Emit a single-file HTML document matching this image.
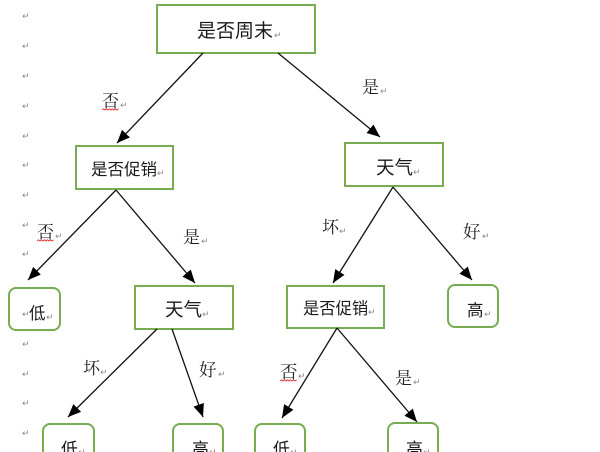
<!DOCTYPE html>
<html><head><meta charset="utf-8"><style>
html,body{margin:0;padding:0;background:#fff;}
svg{display:block;}
.t{font-family:"Liberation Sans","Noto Sans CJK SC",sans-serif;fill:#1a1a1a;}
.l{font-family:"Liberation Serif","Noto Serif CJK SC",serif;fill:#222;}
.m{font-family:"DejaVu Sans",sans-serif;fill:#8a8a8a;font-size:9px;}
</style></head><body>
<svg width="600" height="452" viewBox="0 0 600 452" xmlns="http://www.w3.org/2000/svg">
<defs>
<marker id="a" markerUnits="userSpaceOnUse" markerWidth="13" markerHeight="11" refX="13" refY="5.5" orient="auto">
<path d="M0,0 L13,5.5 L0,11 z" fill="#000"/>
</marker>
</defs>
<!-- left margin paragraph marks -->
<g class="m">
<text x="22" y="19">↵</text><text x="22" y="49">↵</text><text x="22" y="79">↵</text>
<text x="22" y="109">↵</text><text x="22" y="139">↵</text><text x="22" y="168">↵</text>
<text x="22" y="198">↵</text><text x="22" y="228">↵</text><text x="22" y="257">↵</text>
<text x="22" y="347">↵</text><text x="22" y="377">↵</text>
<text x="22" y="406">↵</text><text x="22" y="436">↵</text>
</g>

<!-- boxes -->
<g fill="#fff" stroke="#77ac51" stroke-width="2">
<rect x="157" y="5" width="158" height="48"/>
<rect x="76" y="146" width="97" height="43"/>
<rect x="345" y="143" width="98" height="43"/>
<rect x="135" y="286" width="98" height="43"/>
<rect x="287" y="286" width="97" height="42"/>
<rect x="9" y="288" width="51" height="42" rx="7"/>
<rect x="448" y="285" width="50" height="42" rx="7"/>
<rect x="43" y="424" width="51" height="40" rx="7"/>
<rect x="173" y="424" width="50" height="40" rx="7"/>
<rect x="255" y="424" width="50" height="40" rx="7"/>
<rect x="388" y="423" width="50" height="40" rx="7"/>
</g>

<!-- arrows -->
<g stroke="#111" stroke-width="1.3" marker-end="url(#a)">
<line x1="203" y1="53" x2="117" y2="143"/>
<line x1="278" y1="53" x2="380" y2="137"/>
<line x1="116" y1="190" x2="28" y2="280"/>
<line x1="116" y1="190" x2="195" y2="283"/>
<line x1="157" y1="329" x2="68" y2="417"/>
<line x1="172" y1="329" x2="203" y2="417"/>
<line x1="393" y1="187" x2="333" y2="283"/>
<line x1="393" y1="187" x2="472" y2="280"/>
<line x1="337" y1="328" x2="282" y2="418"/>
<line x1="337" y1="328" x2="417" y2="422"/>
</g>

<!-- node text -->
<text class="t" x="197" y="37" font-size="19">是否周末</text><text class="m" x="274" y="38">↵</text>
<text class="t" x="91" y="175" font-size="16.5">是否促销</text><text class="m" x="157" y="176">↵</text>
<text class="t" x="376" y="174" font-size="18.5">天气</text><text class="m" x="413" y="175">↵</text>
<text class="t" x="165" y="316" font-size="18.5">天气</text><text class="m" x="202" y="317">↵</text>
<text class="t" x="303" y="314" font-size="16.3">是否促销</text><text class="m" x="368" y="315">↵</text>
<text class="m" x="22" y="317">↵</text><text class="t" x="29" y="319" font-size="16.5">低</text><text class="m" x="46" y="320">↵</text>
<text class="t" x="467" y="316" font-size="16.5">高</text><text class="m" x="484" y="317">↵</text>
<text class="t" x="61" y="455" font-size="17">低</text><text class="m" x="78" y="455">↵</text>
<text class="t" x="192" y="455" font-size="17">高</text><text class="m" x="209" y="455">↵</text>
<text class="t" x="273" y="455" font-size="17">低</text><text class="m" x="290" y="455">↵</text>
<text class="t" x="406" y="455" font-size="17">高</text><text class="m" x="423" y="455">↵</text>

<!-- edge labels -->
<text class="l" x="102" y="107" font-size="17">否</text><text class="m" x="120" y="108">↵</text>
<text class="l" x="362" y="93" font-size="17">是</text><text class="m" x="380" y="94">↵</text>
<text class="l" x="37" y="238" font-size="17">否</text><text class="m" x="55" y="239">↵</text>
<text class="l" x="183" y="243" font-size="17">是</text><text class="m" x="201" y="244">↵</text>
<text class="l" x="322" y="233" font-size="17">坏</text><text class="m" x="339" y="234">↵</text>
<text class="l" x="463" y="238" font-size="17.5">好</text><text class="m" x="482" y="239">↵</text>
<text class="l" x="83" y="374" font-size="17">坏</text><text class="m" x="100" y="375">↵</text>
<text class="l" x="199" y="376" font-size="17.5">好</text><text class="m" x="218" y="377">↵</text>
<text class="l" x="280" y="378" font-size="17.5">否</text><text class="m" x="298" y="379">↵</text>
<text class="l" x="395" y="384" font-size="17">是</text><text class="m" x="413" y="385">↵</text>

<!-- red wavy underlines -->
<g fill="none" stroke="#e03030" stroke-width="0.9">
<path d="M102,110 l1.5,-1.2 l1.5,1.2 l1.5,-1.2 l1.5,1.2 l1.5,-1.2 l1.5,1.2 l1.5,-1.2 l1.5,1.2 l1.5,-1.2 l1.5,1.2 l1.5,-1.2"/>
<path d="M37,241 l1.5,-1.2 l1.5,1.2 l1.5,-1.2 l1.5,1.2 l1.5,-1.2 l1.5,1.2 l1.5,-1.2 l1.5,1.2 l1.5,-1.2 l1.5,1.2 l1.5,-1.2"/>
<path d="M280,381 l1.5,-1.2 l1.5,1.2 l1.5,-1.2 l1.5,1.2 l1.5,-1.2 l1.5,1.2 l1.5,-1.2 l1.5,1.2 l1.5,-1.2 l1.5,1.2 l1.5,-1.2"/>
</g>
</svg>
</body></html>
